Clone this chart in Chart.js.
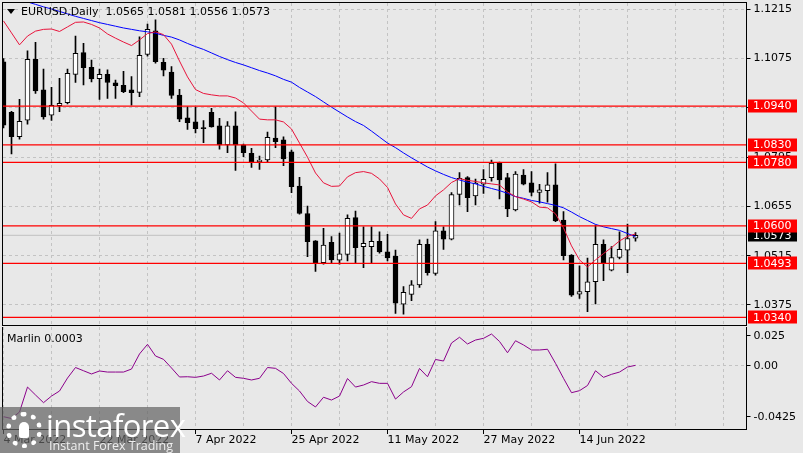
<!DOCTYPE html>
<html>
<head>
<meta charset="utf-8">
<script src="https://cdn.jsdelivr.net/npm/chart.js@4.4.1/dist/chart.umd.min.js"></script>
<style>
  body { margin: 0; background: #e8e8e8; }
  #wrap { position: relative; width: 803px; height: 453px; overflow: hidden; }
  #wrap canvas { position: absolute; left: 0; }
  #wm { position: absolute; left: 0; top: 407px; width: 180px; height: 46px; background: rgba(100,100,100,0.72); }
  #wm .logo { position: absolute; left: 6px; top: 5px; width: 26px; height: 26px; border: 5px dotted #fff; border-radius: 50%; }
  #wm .logo i { position: absolute; left: 8px; top: 5px; width: 10px; height: 16px; background: #fff; border-radius: 5px 5px 2px 2px; }
  #wm .big { position: absolute; left: 46px; top: -3px; font: 31px "Open Sans", sans-serif; color: #fff; letter-spacing: -0.6px; white-space: nowrap; }
  #wm .small { position: absolute; left: 49px; top: 30px; font: 12.5px "Open Sans", sans-serif; color: #eee; white-space: nowrap; }
</style>
</head>
<body>
<div id="wrap">
  <canvas id="main" width="803" height="327" style="top:0"></canvas>
  <canvas id="sub" width="803" height="126" style="top:327px"></canvas>
  <div id="wm"><div class="logo"><i></i></div><div class="big">instaforex</div><div class="small">Instant Forex Trading</div></div>
</div>
<script>
  // EURUSD daily bars, 4 Mar 2022 .. 23 Jun 2022
  const opens = [1.1066, 1.0922, 1.0853, 1.0900, 1.1073, 1.0986, 1.0914, 1.0941, 1.0950, 1.1030,
    1.1092, 1.1050, 1.1018, 1.1030, 1.1006, 1.0999, 1.0986, 1.0979, 1.1087, 1.1154,
    1.1064, 1.1037, 1.0971, 1.0907, 1.0895, 1.0878, 1.0922, 1.0884, 1.0830, 1.0884,
    1.0830, 1.0806, 1.0782, 1.0787, 1.0849, 1.0844, 1.0810, 1.0713, 1.0635, 1.0557,
    1.0495, 1.0553, 1.0502, 1.0519, 1.0623, 1.0541, 1.0541, 1.0556, 1.0526, 1.0514,
    1.0377, 1.0405, 1.0432, 1.0547, 1.0465, 1.0586, 1.0562, 1.0689, 1.0737, 1.0685,
    1.0718, 1.0737, 1.0779, 1.0737, 1.0645, 1.0744, 1.0722, 1.0695, 1.0700, 1.0716,
    1.0616, 1.0517, 1.0406, 1.0413, 1.0441, 1.0547, 1.0474, 1.0510, 1.0531, 1.0565];
  const highs = [1.1075, 1.0925, 1.0959, 1.1097, 1.1121, 1.1045, 1.0993, 1.1019, 1.1045, 1.1139,
    1.1118, 1.1071, 1.1045, 1.1043, 1.1014, 1.1039, 1.1024, 1.1137, 1.1173, 1.1185,
    1.1076, 1.1052, 1.0988, 1.0938, 1.0937, 1.0899, 1.0934, 1.0905, 1.0896, 1.0924,
    1.0832, 1.0820, 1.0798, 1.0866, 1.0938, 1.0853, 1.0815, 1.0738, 1.0656, 1.0558,
    1.0593, 1.0569, 1.0579, 1.0631, 1.0642, 1.0597, 1.0597, 1.0583, 1.0576, 1.0531,
    1.0427, 1.0444, 1.0560, 1.0562, 1.0612, 1.0597, 1.0694, 1.0751, 1.0740, 1.0733,
    1.0760, 1.0787, 1.0781, 1.0749, 1.0754, 1.0760, 1.0754, 1.0718, 1.0751, 1.0776,
    1.0640, 1.0518, 1.0486, 1.0508, 1.0602, 1.0560, 1.0541, 1.0583, 1.0605, 1.0581];
  const lows = [1.0878, 1.0804, 1.0846, 1.0889, 1.0976, 1.0903, 1.0899, 1.0924, 1.0946, 1.1007,
    1.1000, 1.1009, 1.0959, 1.0962, 1.0962, 1.0978, 1.0943, 1.0967, 1.1082, 1.1062,
    1.1026, 1.0962, 1.0896, 1.0874, 1.0864, 1.0836, 1.0880, 1.0818, 1.0808, 1.0757,
    1.0796, 1.0766, 1.0760, 1.0782, 1.0822, 1.0771, 1.0694, 1.0633, 1.0512, 1.0470,
    1.0491, 1.0495, 1.0491, 1.0500, 1.0495, 1.0481, 1.0493, 1.0522, 1.0500, 1.0351,
    1.0349, 1.0387, 1.0425, 1.0460, 1.0460, 1.0533, 1.0560, 1.0659, 1.0640, 1.0659,
    1.0692, 1.0727, 1.0676, 1.0626, 1.0642, 1.0716, 1.0685, 1.0664, 1.0667, 1.0612,
    1.0503, 1.0399, 1.0394, 1.0356, 1.0378, 1.0444, 1.0472, 1.0506, 1.0467, 1.0556];
  const closes = [1.0886, 1.0853, 1.0897, 1.1073, 1.0983, 1.0909, 1.0942, 1.0948, 1.1033, 1.1090,
    1.1049, 1.1017, 1.1030, 1.1007, 1.0998, 1.0981, 1.0978, 1.1084, 1.1158, 1.1066,
    1.1042, 1.0970, 1.0903, 1.0893, 1.0876, 1.0876, 1.0881, 1.0830, 1.0884, 1.0830,
    1.0808, 1.0782, 1.0787, 1.0851, 1.0839, 1.0790, 1.0711, 1.0635, 1.0555, 1.0495,
    1.0545, 1.0503, 1.0520, 1.0621, 1.0538, 1.0550, 1.0556, 1.0526, 1.0509, 1.0380,
    1.0411, 1.0432, 1.0547, 1.0467, 1.0586, 1.0562, 1.0689, 1.0735, 1.0680, 1.0721,
    1.0732, 1.0778, 1.0730, 1.0648, 1.0747, 1.0718, 1.0695, 1.0702, 1.0716, 1.0614,
    1.0515, 1.0403, 1.0413, 1.0441, 1.0547, 1.0495, 1.0510, 1.0533, 1.0564, 1.0573];

  // moving averages as drawn on the chart
  const redMA = [1.1182, 1.1148, 1.1114, 1.1139, 1.1153, 1.1158, 1.1159, 1.1152, 1.1165, 1.1178,
    1.1179, 1.1172, 1.1162, 1.1145, 1.1133, 1.1122, 1.1112, 1.1128, 1.1146, 1.1151,
    1.1143, 1.1116, 1.1068, 1.1023, 1.0987, 1.0976, 1.0972, 1.0969, 1.0969, 1.0963,
    1.0949, 1.0926, 1.0903, 1.0901, 1.0901, 1.0895, 1.0875, 1.0835, 1.0795, 1.0750,
    1.0722, 1.0712, 1.0713, 1.0739, 1.0751, 1.0754, 1.0749, 1.0733, 1.0709, 1.0662,
    1.0631, 1.0621, 1.0648, 1.0659, 1.0685, 1.0702, 1.0723, 1.0734, 1.0729, 1.0726,
    1.0722, 1.0719, 1.0716, 1.0696, 1.0683, 1.0676, 1.0668, 1.0653, 1.0651, 1.0634,
    1.0594, 1.0543, 1.0503, 1.0483, 1.0503, 1.0521, 1.0538, 1.0557, 1.0570, 1.0577];
  const blueMA = [1.1256, 1.1250, 1.1243, 1.1236, 1.1229, 1.1222, 1.1216, 1.1209, 1.1202, 1.1195,
    1.1189, 1.1183, 1.1177, 1.1172, 1.1167, 1.1162, 1.1158, 1.1154, 1.1151, 1.1147,
    1.1141, 1.1136, 1.1128, 1.1118, 1.1109, 1.1101, 1.1091, 1.1081, 1.1072, 1.1064,
    1.1057, 1.1049, 1.1041, 1.1034, 1.1026, 1.1016, 1.1008, 1.0993, 1.0980, 1.0967,
    1.0952, 1.0937, 1.0923, 1.0909, 1.0896, 1.0885, 1.0869, 1.0852, 1.0835, 1.0822,
    1.0807, 1.0793, 1.0780, 1.0767, 1.0756, 1.0746, 1.0737, 1.0730, 1.0724, 1.0719,
    1.0712, 1.0706, 1.0700, 1.0692, 1.0683, 1.0678, 1.0672, 1.0668, 1.0663, 1.0658,
    1.0651, 1.0639, 1.0626, 1.0615, 1.0604, 1.0597, 1.0592, 1.0587, 1.0578, 1.0569];

  // Marlin oscillator (sub window)
  const marlin = [-0.0425, -0.0440, -0.0386, -0.0178, -0.0244, -0.0308, -0.0253, -0.0211, -0.0103, -0.0015,
    -0.0042, -0.0069, -0.0044, -0.0053, -0.0053, -0.0053, -0.0028, 0.0098, 0.0178, 0.0081,
    0.0053, -0.0019, -0.0094, -0.0092, -0.0097, -0.0086, -0.0063, -0.0119, -0.0042, -0.0097,
    -0.0105, -0.0119, -0.0105, -0.0015, -0.0022, -0.0065, -0.0147, -0.0211, -0.0298, -0.0344,
    -0.0263, -0.0286, -0.0253, -0.0107, -0.0178, -0.0161, -0.0133, -0.0147, -0.0147, -0.0278,
    -0.0219, -0.0175, -0.0023, -0.0092, 0.0052, 0.0039, 0.0189, 0.0237, 0.0181, 0.0214,
    0.0228, 0.0264, 0.0202, 0.0108, 0.0208, 0.0173, 0.0131, 0.0131, 0.0137, 0.0020,
    -0.0105, -0.0225, -0.0208, -0.0165, -0.0042, -0.0097, -0.0072, -0.0053, -0.0011, 0.0003];

  const levels = [1.0940, 1.0830, 1.0780, 1.0600, 1.0493, 1.0340];
  const priceTicks = [1.1215, 1.1075, 1.0935, 1.0795, 1.0655, 1.0515, 1.0375];
  const marlinTicks = [0.025, 0, -0.0425];
  const marlinTickLabels = ['0.025', '0.00', '-0.0425'];
  const dateTickIndex = [0, 12, 24, 36, 48, 60, 72];
  const dateTickLabels = ['4 Mar 2022', '22 Mar 2022', '7 Apr 2022', '25 Apr 2022', '11 May 2022', '27 May 2022', '14 Jun 2022'];

  const FONT = '"DejaVu Sans", sans-serif';
  const GRID = '#c3c3c3';
  const X_MIN = -0.0625, X_MAX = 92.875;
  const last = closes.length - 1;

  function xGridTicks(scale, from) {
    scale.ticks = [];
    for (let v = from; v <= 90; v += 6) scale.ticks.push({ value: v });
  }

  // keep the plot area exactly where the axes are, no label padding
  function noPad(scale) {
    scale.paddingTop = 0; scale.paddingBottom = 0;
    scale.paddingLeft = 0; scale.paddingRight = 0;
  }

  function drawFrame(ctx, a) {
    ctx.save();
    ctx.strokeStyle = '#000';
    ctx.lineWidth = 1;
    ctx.strokeRect(Math.round(a.left) - 0.5, Math.round(a.top) - 0.5,
      Math.round(a.right) - Math.round(a.left), Math.round(a.bottom) - Math.round(a.top));
    ctx.restore();
  }

  function priceBox(ctx, y, text, bg) {
    ctx.fillStyle = bg;
    ctx.fillRect(748, Math.round(y) - 6.5, 49, 13);
    ctx.fillStyle = '#fff';
    ctx.fillText(text, 753, y + 0.5);
  }

  const mainDecor = {
    id: 'mainDecor',
    afterDraw(chart) {
      const ctx = chart.ctx;
      const ys = chart.scales.y;
      drawFrame(ctx, chart.chartArea);
      ctx.save();
      ctx.font = '11px ' + FONT;
      ctx.textBaseline = 'middle';
      ctx.textAlign = 'left';
      // current price label first, level labels over it
      priceBox(ctx, ys.getPixelForValue(closes[last]), closes[last].toFixed(4), '#000');
      levels.forEach(l => priceBox(ctx, ys.getPixelForValue(l), l.toFixed(4), '#ff0000'));
      // title
      ctx.fillStyle = '#000';
      ctx.beginPath();
      ctx.moveTo(7, 9); ctx.lineTo(15, 9); ctx.lineTo(11, 14); ctx.closePath();
      ctx.fill();
      const t = 'EURUSD,Daily  ' + [opens[last], highs[last], lows[last], closes[last]].map(v => v.toFixed(4)).join(' ');
      ctx.fillText(t, 21, 12);
      ctx.restore();
    }
  };

  const subDecor = {
    id: 'subDecor',
    afterDraw(chart) {
      const ctx = chart.ctx;
      drawFrame(ctx, chart.chartArea);
      ctx.save();
      ctx.font = '11px ' + FONT;
      ctx.textBaseline = 'middle';
      ctx.fillStyle = '#000';
      ctx.fillText('Marlin ' + marlin[last].toFixed(4), 7, 12);
      ctx.restore();
    }
  };

  const levelSets = levels.map(l => ({
    type: 'line',
    data: [{ x: X_MIN, y: l }, { x: X_MAX, y: l }],
    borderColor: '#ff0000', borderWidth: 1.3, pointRadius: 0, order: 1
  }));

  new Chart(document.getElementById('main'), {
    type: 'bar',
    data: {
      datasets: [
        ...levelSets,
        { type: 'line', data: redMA.map((v, i) => ({ x: i, y: v })), borderColor: '#e8143c', borderWidth: 1, pointRadius: 0, order: 3 },
        { type: 'line', data: blueMA.map((v, i) => ({ x: i, y: v })), borderColor: '#0000ff', borderWidth: 1, pointRadius: 0, order: 4 },
        { data: opens.map((o, i) => ({ x: i, y: [o, closes[i]] })),
          backgroundColor: opens.map((o, i) => closes[i] >= o ? '#ffffff' : '#000000'),
          borderColor: '#000', borderWidth: 1, borderSkipped: false, barThickness: 5, minBarLength: 1, grouped: false, order: 6 },
        { data: highs.map((h, i) => ({ x: i, y: [lows[i], h] })),
          backgroundColor: '#000', borderWidth: 0, barThickness: 1, grouped: false, order: 7 },
        { type: 'line', data: [{ x: X_MIN, y: closes[last] }, { x: X_MAX, y: closes[last] }],
          borderColor: '#c0c0c0', borderWidth: 1, pointRadius: 0, order: 9 }
      ]
    },
    options: {
      responsive: false,
      devicePixelRatio: 1,
      animation: false,
      layout: { padding: { left: 3, top: 3, right: 0, bottom: 1 } },
      plugins: { legend: { display: false }, tooltip: { enabled: false } },
      scales: {
        x: {
          type: 'linear', min: X_MIN, max: X_MAX, offset: false,
          afterBuildTicks: s => xGridTicks(s, 6),
          afterFit: s => { s.height = 0; noPad(s); },
          ticks: { display: false },
          grid: { color: GRID, drawTicks: false, offset: false },
          border: { display: false, dash: [3, 3] }
        },
        y: {
          type: 'linear', position: 'right', min: 1.03153, max: 1.12329,
          afterBuildTicks: s => { s.ticks = priceTicks.map(v => ({ value: v })); },
          afterFit: s => { s.width = 56.5; noPad(s); },
          ticks: { callback: v => v.toFixed(4), color: '#000', font: { family: FONT, size: 11 }, padding: 3 },
          grid: { color: GRID, tickLength: 4, tickColor: '#000', tickBorderDash: [] },
          border: { display: false, dash: [3, 3] }
        }
      }
    },
    plugins: [mainDecor]
  });

  new Chart(document.getElementById('sub'), {
    type: 'line',
    data: {
      datasets: [
        { data: marlin.map((v, i) => ({ x: i, y: v })), borderColor: '#8b008b', borderWidth: 1, pointRadius: 0 }
      ]
    },
    options: {
      responsive: false,
      devicePixelRatio: 1,
      animation: false,
      layout: { padding: { left: 3, top: 0, right: 0, bottom: 0 } },
      plugins: { legend: { display: false }, tooltip: { enabled: false } },
      scales: {
        x: {
          type: 'linear', min: X_MIN, max: X_MAX, offset: false,
          afterBuildTicks: s => xGridTicks(s, 0),
          afterFit: s => { s.height = 23; noPad(s); },
          ticks: {
            align: 'start', autoSkip: false, maxRotation: 0, padding: 0,
            color: '#000', font: { family: FONT, size: 11 },
            callback: v => { const k = dateTickIndex.indexOf(v); return k < 0 ? '' : dateTickLabels[k]; }
          },
          grid: {
            color: GRID, offset: false, tickLength: 4, tickBorderDash: [],
            tickColor: c => (c.tick && dateTickIndex.includes(c.tick.value)) ? '#000' : 'rgba(0,0,0,0)'
          },
          border: { display: false, dash: [3, 3] }
        },
        y: {
          type: 'linear', position: 'right', min: -0.05358, max: 0.03225,
          afterBuildTicks: s => { s.ticks = marlinTicks.map(v => ({ value: v })); },
          afterFit: s => { s.width = 56.5; noPad(s); },
          ticks: { callback: (v, i) => marlinTickLabels[i], color: '#000', font: { family: FONT, size: 11 }, padding: 3 },
          grid: {
            color: c => (c.tick && c.tick.value === 0) ? GRID : 'rgba(0,0,0,0)',
            tickLength: 4, tickColor: '#000', tickBorderDash: []
          },
          border: { display: false, dash: [3, 3] }
        }
      }
    },
    plugins: [subDecor]
  });
</script>
</body>
</html>
